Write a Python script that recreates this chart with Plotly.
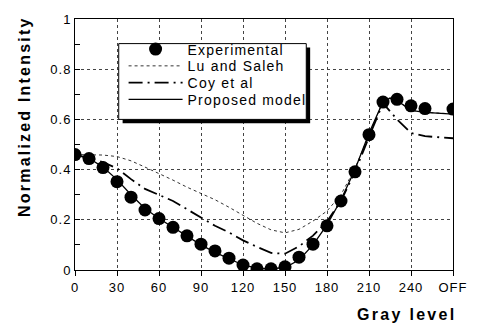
import plotly.graph_objects as go

# Gray level positions (OFF plotted at 270)
exp_x = [0, 10, 20, 30, 40, 50, 60, 70, 80, 90, 100, 110, 120, 130, 140, 150,
         160, 170, 180, 190, 200, 210, 220, 230, 240, 250, 270]
exp_y = [0.460, 0.444, 0.408, 0.352, 0.290, 0.239, 0.205, 0.170, 0.136, 0.103,
         0.076, 0.047, 0.020, 0.005, 0.005, 0.013, 0.051, 0.103, 0.176, 0.275,
         0.391, 0.539, 0.669, 0.680, 0.654, 0.643, 0.641]

lu_x = [0, 10, 20, 30, 40, 50, 60, 70, 80, 90, 100, 110, 120, 130, 140, 150,
        160, 170, 180, 190, 200, 210, 220, 230, 240, 250, 270]
lu_y = [0.460, 0.460, 0.458, 0.452, 0.435, 0.410, 0.385, 0.358, 0.330, 0.306,
        0.280, 0.250, 0.218, 0.186, 0.160, 0.148, 0.162, 0.195, 0.235, 0.300,
        0.405, 0.540, 0.672, 0.676, 0.636, 0.628, 0.622]

coy_x = [0, 10, 20, 30, 40, 50, 60, 70, 80, 90, 100, 110, 120, 130, 140, 150,
         160, 170, 180, 190, 200, 210, 220, 230, 240, 250, 270]
coy_y = [0.460, 0.445, 0.430, 0.405, 0.362, 0.323, 0.300, 0.275, 0.242, 0.209,
         0.176, 0.150, 0.118, 0.092, 0.068, 0.065, 0.094, 0.137, 0.193, 0.275,
         0.392, 0.530, 0.665, 0.600, 0.546, 0.533, 0.525]

prop_x = [0, 10, 20, 30, 40, 50, 60, 70, 80, 90, 100, 110, 120, 130, 140, 150,
          160, 170, 180, 190, 200, 210, 220, 225, 230, 240, 250, 270]
prop_y = [0.460, 0.445, 0.410, 0.360, 0.300, 0.245, 0.205, 0.170, 0.135, 0.100,
          0.070, 0.045, 0.020, 0.007, 0.005, 0.010, 0.040, 0.100, 0.180, 0.280,
          0.400, 0.545, 0.670, 0.685, 0.675, 0.636, 0.628, 0.621]

tick_vals = [0, 30, 60, 90, 120, 150, 180, 210, 240, 270]
tick_text = ["0", "30", "60", "90", "120", "150", "180", "210", "240", "OFF"]
ytick_vals = [0, 0.2, 0.4, 0.6, 0.8, 1]
ytick_text = ["0", "0.2", "0.4", "0.6", "0.8", "1"]
series_names = ["Experimental", "Lu and Saleh", "Coy et al", "Proposed model"]

FONT = "Liberation Sans, Arial, sans-serif"


def spaced(s, ls):
    return f'<span style="letter-spacing:{ls}px">{s}</span>'


px = lambda v: (v - 75) / 389
py = lambda v: (270 - v) / 255

fig = go.Figure()
fig.add_trace(go.Scatter(x=exp_x, y=exp_y, mode="markers", name=spaced(series_names[0], 1.2),
                         marker=dict(color="black", size=13), legend="legend"))
fig.add_trace(go.Scatter(x=lu_x, y=lu_y, mode="lines", name=spaced(series_names[1], 1.2),
                         line=dict(color="black", width=0.8, dash="dot"), legend="legend2"))
fig.add_trace(go.Scatter(x=coy_x, y=coy_y, mode="lines", name=spaced(series_names[2], 1.2),
                         line=dict(color="black", width=1.8, dash="14px,5px,2px,5px"),
                         legend="legend3"))
fig.add_trace(go.Scatter(x=prop_x, y=prop_y, mode="lines", name=spaced(series_names[3], 1.2),
                         line=dict(color="black", width=1.3), legend="legend4"))

shapes = [
    dict(type="rect", xref="paper", yref="paper", x0=px(124), x1=px(317),
         y0=py(121), y1=py(44), fillcolor="black", line=dict(width=0), layer="above"),
    dict(type="rect", xref="paper", yref="paper", x0=px(120), x1=px(313),
         y0=py(117), y1=py(40), fillcolor="white", line=dict(color="black", width=1),
         layer="above"),
]


def leg(cy):
    return dict(x=px(125), y=py(cy), xanchor="left", yanchor="middle",
                bgcolor="rgba(0,0,0,0)", borderwidth=0, itemwidth=54,
                font=dict(family=FONT, size=14, color="black"))


fig.update_layout(
    width=480, height=330,
    margin=dict(l=75, r=16, t=15, b=60),
    paper_bgcolor="white", plot_bgcolor="white",
    font=dict(family=FONT, size=13, color="black"),
    showlegend=True,
    legend=leg(46), legend2=leg(63), legend3=leg(80), legend4=leg(97),
    shapes=shapes,
    xaxis=dict(range=[0, 270], tickvals=tick_vals,
               ticktext=[spaced(t, 1) for t in tick_text],
               showline=True, linecolor="black", linewidth=1, mirror=True,
               ticks="outside", ticklen=5, tickcolor="black",
               showgrid=True, gridcolor="#444", griddash="dot", gridwidth=1,
               zeroline=False, tickfont=dict(size=13)),
    yaxis=dict(range=[0, 1], tickvals=ytick_vals,
               ticktext=[spaced(t, 1) for t in ytick_text],
               showline=True, linecolor="black", linewidth=1, mirror=True,
               ticks="inside", ticklen=5, tickcolor="black",
               minor=dict(dtick=0.1, ticks="inside", ticklen=5, tickcolor="black", showgrid=False),
               showgrid=True, gridcolor="#444", griddash="dot", gridwidth=1,
               zeroline=False, tickfont=dict(size=13)),
    annotations=[
        dict(text="<b>" + spaced("Gray level", 2.3) + "</b>", xref="paper", yref="paper",
             x=px(470), y=py(315), xanchor="right", yanchor="middle", showarrow=False,
             font=dict(family=FONT, size=16, color="black")),
        dict(text="<b>" + spaced("Normalized Intensity", 2.2) + "</b>", xref="paper",
             yref="paper", x=px(23), y=py(114), xanchor="center", yanchor="middle",
             textangle=-90, showarrow=False,
             font=dict(family=FONT, size=16, color="black")),
    ],
)

fig.write_html("out.html", config={"displayModeBar": False},
               post_script="document.body.style.margin='0px';")
